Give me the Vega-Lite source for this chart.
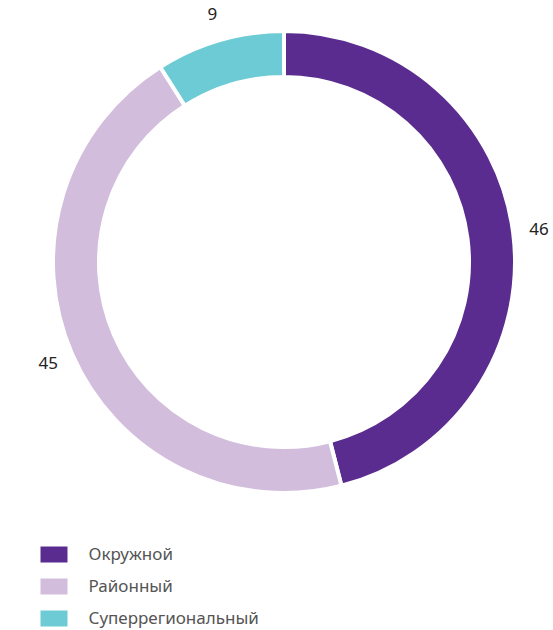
{
  "$schema": "https://vega.github.io/schema/vega-lite/v6.json",
  "width": 538,
  "height": 524,
  "autosize": "none",
  "padding": {"left": 15, "top": 0, "right": 0, "bottom": 106},
  "background": "white",
  "data": {
    "values": [
      {"category": "Окружной", "value": 46},
      {"category": "Районный", "value": 45},
      {"category": "Суперрегиональный", "value": 9}
    ]
  },
  "encoding": {
    "theta": {"field": "value", "type": "quantitative", "stack": true},
    "order": {"field": "category", "type": "ordinal", "sort": "ascending"}
  },
  "layer": [
    {
      "mark": {"type": "arc", "outerRadius": 231, "innerRadius": 185, "stroke": "white", "strokeWidth": 4},
      "encoding": {
        "color": {
          "field": "category",
          "type": "nominal",
          "scale": {
            "domain": ["Окружной", "Районный", "Суперрегиональный"],
            "range": ["#5b2c8f", "#d2bddc", "#6ccbd5"]
          },
          "legend": {
            "orient": "none",
            "legendX": 30.5,
            "legendY": 546,
            "title": null,
            "padding": 0,
            "symbolType": "M-1.6875,-1H1.6875V1H-1.6875Z",
            "symbolSize": 256,
            "symbolStrokeWidth": 0,
            "labelFontSize": 17,
            "labelFont": "Noto Sans",
            "labelColor": "#555555",
            "labelOffset": 26,
            "labelLimit": 400,
            "rowPadding": 14
          }
        }
      }
    },
    {
      "mark": {"type": "text", "radius": 257, "fontSize": 17, "font": "Noto Sans", "color": "#222222"},
      "encoding": {
        "text": {"field": "value", "type": "quantitative"}
      }
    }
  ],
  "config": {"view": {"stroke": null}}
}
